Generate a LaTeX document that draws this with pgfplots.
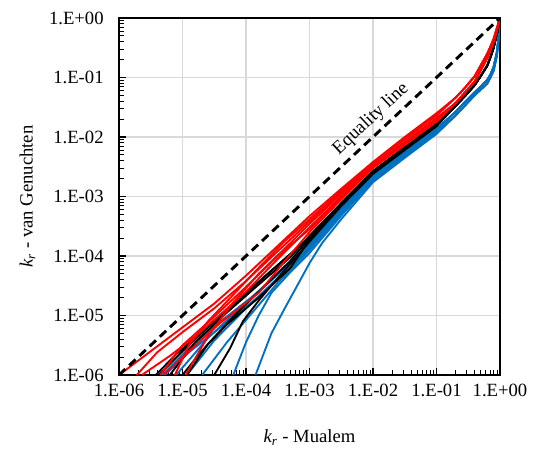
\documentclass[border=0pt]{standalone}
\usepackage{pgfplots}
\pgfplotsset{compat=1.18}
\usepackage{fontspec}
\setmainfont{Liberation Serif}
\definecolor{cblue}{HTML}{0070C0}
\definecolor{cred}{HTML}{FF0000}
\definecolor{cgrid}{HTML}{D9D9D9}
\begin{document}
\begin{tikzpicture}
\begin{axis}[
  scale only axis,
  width=285.75pt, height=267.75pt,
  xmode=log, ymode=log,
  xmin=1e-6, xmax=1, ymin=1e-6, ymax=1,
  enlargelimits=false,
  xtick={1e-6,1e-5,1e-4,1e-3,1e-2,1e-1,1},
  ytick={1e-6,1e-5,1e-4,1e-3,1e-2,1e-1,1},
  xticklabels={1.E-06,1.E-05,1.E-04,1.E-03,1.E-02,1.E-01,1.E+00},
  yticklabels={1.E-06,1.E-05,1.E-04,1.E-03,1.E-02,1.E-01,1.E+00},
  tick label style={font=\fontsize{14}{16}\selectfont},
  xticklabel style={yshift=-3pt},
  yticklabel style={xshift=-8pt},
  grid=major,
  major grid style={draw=cgrid, line width=0.9pt},
  axis line style={line width=1.1pt, black},
  tick style={black, line width=0.8pt},
  tick align=inside,
  tick pos=left,
  major tick length=5pt,
  minor tick length=3.5pt,
  xlabel={\textit{k\textsubscript{r}} - Mualem},
  ylabel={\textit{k\textsubscript{r}} - van Genuchten},
  label style={font=\fontsize{14}{16}\selectfont},
  xlabel style={at={(axis description cs:0.5,-0.176)}, anchor=center},
  ylabel style={at={(axis description cs:-0.24,0.5)}, anchor=center},
  every axis plot/.append style={line width=1.4pt, line join=round, no markers},
]
% ---------------- blue ----------------
\addplot[cblue] coordinates {(4.786e-6,1e-6) (1.259e-5,2.818e-6) (3.981e-5,7.943e-6) (1.585e-4,2.512e-5) (5.012e-4,7.586e-5) (1e-3,1.585e-4) (3.162e-3,6.310e-4) (1e-2,2.239e-3) (3.162e-2,5.623e-3) (0.1,1.380e-2)
 (0.1995,0.0263) (0.2818,0.0389) (0.3981,0.0562) (0.5012,0.0708) (0.631,0.0912) (0.7079,0.1122) (0.7943,0.1514) (0.8913,0.2630) (0.955,0.5012) (1,1)};
\addplot[cblue] coordinates {(5.248e-6,1e-6) (1.259e-5,2.399e-6) (3.981e-5,6.310e-6) (1.585e-4,2.089e-5) (5.012e-4,6.310e-5) (1e-3,1.380e-4) (3.162e-3,5.754e-4) (1e-2,2.089e-3) (3.162e-2,5.370e-3) (0.1,1.318e-2)
 (0.1995,0.0263) (0.2818,0.0389) (0.3981,0.0562) (0.5012,0.0708) (0.631,0.0912) (0.7079,0.1122) (0.7943,0.1514) (0.8913,0.2630) (0.955,0.5012) (1,1)};
\addplot[cblue] coordinates {(2.042e-5,1e-6) (5.012e-5,3.548e-6) (1.259e-4,1.122e-5) (3.162e-4,3.548e-5) (1e-3,1.259e-4) (3.162e-3,5.248e-4) (1e-2,1.995e-3) (3.162e-2,5.012e-3) (0.1,1.259e-2)
 (0.1995,0.0229) (0.2818,0.0339) (0.3981,0.0501) (0.5012,0.0631) (0.631,0.0794) (0.7079,0.1) (0.7943,0.1318) (0.8913,0.2291) (0.955,0.4571) (1,1)};
\addplot[cblue] coordinates {(6.310e-5,1e-6) (1e-4,3.548e-6) (1.585e-4,1e-5) (2.512e-4,2.399e-5) (5.012e-4,5.370e-5) (1e-3,1.122e-4) (3.162e-3,4.786e-4) (1e-2,1.862e-3) (3.162e-2,4.677e-3) (0.1,1.175e-2)
 (0.1995,0.0229) (0.2818,0.0339) (0.3981,0.0501) (0.5012,0.0631) (0.631,0.0794) (0.7079,0.1) (0.7943,0.1318) (0.8913,0.2291) (0.955,0.4571) (1,1)};
\addplot[cblue] coordinates {(1.413e-4,1e-6) (2.512e-4,5.012e-6) (3.981e-4,1.259e-5) (5.888e-4,2.692e-5) (1e-3,7.586e-5) (1.585e-3,1.660e-4) (3.162e-3,4.169e-4) (1e-2,1.738e-3) (3.162e-2,4.467e-3) (0.1,1.122e-2)
 (0.1995,0.0229) (0.2818,0.0339) (0.3981,0.0501) (0.5012,0.0631) (0.631,0.0794) (0.7079,0.1) (0.7943,0.1318) (0.8913,0.2291) (0.955,0.4571) (1,1)};
\addplot[cblue] coordinates {(1.175e-5,1e-6) (3.162e-5,3.802e-6) (1e-4,1.318e-5) (3.162e-4,4.266e-5) (1e-3,1.445e-4) (3.162e-3,6.026e-4) (1e-2,2.138e-3) (3.162e-2,5.495e-3) (0.1,1.349e-2)
 (0.1995,0.0263) (0.2818,0.0389) (0.3981,0.0562) (0.5012,0.0708) (0.631,0.0912) (0.7079,0.1122) (0.7943,0.1514) (0.8913,0.2630) (0.955,0.5012) (1,1)};
\addplot[cblue] coordinates {(7.943e-6,1e-6) (2.512e-5,4.169e-6) (1e-4,1.660e-5) (3.162e-4,5.012e-5) (1e-3,1.514e-4) (3.162e-3,6.166e-4) (1e-2,2.188e-3) (3.162e-2,5.495e-3) (0.1,1.380e-2)
 (0.1995,0.0263) (0.2818,0.0389) (0.3981,0.0562) (0.5012,0.0708) (0.631,0.0912) (0.7079,0.1122) (0.7943,0.1514) (0.8913,0.2630) (0.955,0.5012) (1,1)};
% ---------------- black ----------------
\addplot[black] coordinates {(4.266e-6,1e-6) (1e-5,2.512e-6) (3.162e-5,7.943e-6) (1e-4,2.399e-5) (3.162e-4,7.079e-5) (1e-3,2.089e-4) (3.162e-3,7.586e-4) (1e-2,2.630e-3) (3.162e-2,6.607e-3) (0.1,1.660e-2)
 (0.1995,0.0331) (0.2818,0.0490) (0.3981,0.0741) (0.5012,0.1072) (0.631,0.1585) (0.7079,0.2188) (0.7943,0.3162) (0.912,0.6026) (1,1)};
\addplot[black] coordinates {(1e-5,1e-6) (1.995e-5,2.512e-6) (5.012e-5,7.079e-6) (1.585e-4,1.995e-5) (5.012e-4,6.310e-5) (1e-3,1.905e-4) (3.162e-3,7.244e-4) (1e-2,2.512e-3) (3.162e-2,6.310e-3) (0.1,1.585e-2)
 (0.1995,0.0331) (0.2818,0.0490) (0.3981,0.0741) (0.5012,0.1072) (0.631,0.1585) (0.7079,0.2188) (0.7943,0.3162) (0.912,0.6026) (1,1)};
\addplot[black] coordinates {(3.162e-5,1e-6) (5.623e-5,2.818e-6) (8.913e-5,7.943e-6) (1.585e-4,1.778e-5) (3.162e-4,4.266e-5) (1e-3,1.738e-4) (3.162e-3,6.918e-4) (1e-2,2.399e-3) (3.162e-2,6.026e-3) (0.1,1.514e-2)
 (0.1995,0.0331) (0.2818,0.0490) (0.3981,0.0741) (0.5012,0.1072) (0.631,0.1585) (0.7079,0.2188) (0.7943,0.3162) (0.912,0.6026) (1,1)};
\addplot[black] coordinates {(1.175e-5,1e-6) (2.512e-5,3.311e-6) (6.310e-5,9.550e-6) (1.585e-4,2.512e-5) (5.012e-4,8.318e-5) (1e-3,1.995e-4) (3.162e-3,7.413e-4) (1e-2,2.570e-3) (3.162e-2,6.457e-3) (0.1,1.622e-2)
 (0.1995,0.0331) (0.2818,0.0490) (0.3981,0.0741) (0.5012,0.1072) (0.631,0.1585) (0.7079,0.2188) (0.7943,0.3162) (0.912,0.6026) (1,1)};
\addplot[black] coordinates {(6.310e-6,1e-6) (1.585e-5,3.548e-6) (5.012e-5,1.122e-5) (1.585e-4,3.311e-5) (5.012e-4,9.550e-5) (1e-3,2.188e-4) (3.162e-3,7.762e-4) (1e-2,2.692e-3) (3.162e-2,6.761e-3) (0.1,1.660e-2)
 (0.1995,0.0331) (0.2818,0.0490) (0.3981,0.0741) (0.5012,0.1072) (0.631,0.1585) (0.7079,0.2188) (0.7943,0.3162) (0.912,0.6026) (1,1)};
\addplot[black] coordinates {(3.802e-6,1e-6) (7.943e-6,2.239e-6) (2.512e-5,6.310e-6) (7.943e-5,1.905e-5) (2.512e-4,5.623e-5) (1e-3,1.995e-4) (3.162e-3,7.244e-4) (1e-2,2.512e-3) (3.162e-2,6.310e-3) (0.1,1.585e-2)
 (0.1995,0.0331) (0.2818,0.0490) (0.3981,0.0741) (0.5012,0.1072) (0.631,0.1585) (0.7079,0.2188) (0.7943,0.3162) (0.912,0.6026) (1,1)};
% ---------------- red ----------------
\addplot[cred] coordinates {(1e-6,1e-6) (3.162e-6,2.512e-6) (1e-5,6.310e-6) (3.162e-5,1.585e-5) (1e-4,4.677e-5) (3.162e-4,1.479e-4) (1e-3,4.677e-4) (3.162e-3,1.349e-3) (1e-2,3.802e-3) (3.162e-2,1e-2) (0.1,2.512e-2)
 (0.1995,0.0457) (0.2818,0.0676) (0.3981,0.1047) (0.5012,0.1622) (0.631,0.2512) (0.7079,0.3311) (0.7943,0.4467) (0.912,0.7244) (1,1)};
\addplot[cred] coordinates {(1.905e-6,1e-6) (3.981e-6,2.399e-6) (1e-5,5.248e-6) (3.162e-5,1.318e-5) (1e-4,3.802e-5) (3.162e-4,1.202e-4) (1e-3,3.802e-4) (3.162e-3,1.175e-3) (1e-2,3.548e-3) (3.162e-2,9.120e-3) (0.1,2.291e-2)
 (0.1995,0.0457) (0.2818,0.0676) (0.3981,0.1047) (0.5012,0.1622) (0.631,0.2512) (0.7079,0.3311) (0.7943,0.4467) (0.912,0.7244) (1,1)};
\addplot[cred] coordinates {(2.291e-6,1e-6) (6.310e-6,2.089e-6) (1.585e-5,4.467e-6) (3.981e-5,1.047e-5) (1e-4,2.512e-5) (3.162e-4,8.913e-5) (1e-3,3.020e-4) (3.162e-3,1e-3) (1e-2,3.162e-3) (3.162e-2,7.943e-3) (0.1,1.995e-2)
 (0.1995,0.0372) (0.2818,0.0562) (0.3981,0.0851) (0.5012,0.1349) (0.631,0.2138) (0.7079,0.2951) (0.7943,0.3981) (0.912,0.6761) (1,1)};
\addplot[cred] coordinates {(7.586e-6,1e-6) (1.259e-5,3.162e-6) (2.512e-5,7.943e-6) (6.310e-5,2.239e-5) (1.585e-4,6.310e-5) (3.981e-4,1.738e-4) (1e-3,4.169e-4) (3.162e-3,1.259e-3) (1e-2,3.631e-3) (3.162e-2,9.333e-3) (0.1,2.344e-2)
 (0.1995,0.0457) (0.2818,0.0676) (0.3981,0.1047) (0.5012,0.1622) (0.631,0.2512) (0.7079,0.3311) (0.7943,0.4467) (0.912,0.7244) (1,1)};
\addplot[cred] coordinates {(4.467e-6,1e-6) (1e-5,3.162e-6) (3.162e-5,9.550e-6) (1e-4,3.020e-5) (3.162e-4,1e-4) (1e-3,2.818e-4) (3.162e-3,9.550e-4) (1e-2,3.020e-3) (3.162e-2,7.586e-3) (0.1,1.905e-2)
 (0.1995,0.0372) (0.2818,0.0562) (0.3981,0.0851) (0.5012,0.1349) (0.631,0.2138) (0.7079,0.2951) (0.7943,0.3981) (0.912,0.6761) (1,1)};
\addplot[cred] coordinates {(1.122e-5,1e-6) (2.512e-5,4.467e-6) (6.310e-5,1.660e-5) (1.585e-4,5.012e-5) (5.012e-4,1.660e-4) (1e-3,3.467e-4) (3.162e-3,1.096e-3) (1e-2,3.311e-3) (3.162e-2,8.318e-3) (0.1,2.089e-2)
 (0.1995,0.0372) (0.2818,0.0562) (0.3981,0.0851) (0.5012,0.1349) (0.631,0.2138) (0.7079,0.2951) (0.7943,0.3981) (0.912,0.6761) (1,1)};
\addplot[cred] coordinates {(5.012e-6,1e-6) (1.259e-5,2.512e-6) (3.981e-5,7.586e-6) (1.585e-4,2.399e-5) (3.981e-4,7.943e-5) (1e-3,2.512e-4) (3.162e-3,8.913e-4) (1e-2,3.020e-3) (3.162e-2,7.413e-3) (0.1,1.820e-2)
 (0.1995,0.0372) (0.2818,0.0562) (0.3981,0.0851) (0.5012,0.1349) (0.631,0.2138) (0.7079,0.2951) (0.7943,0.3981) (0.912,0.6761) (1,1)};
% ---------------- equality line ----------------
\addplot[black, line width=2.2pt, dash pattern=on 6.5pt off 4pt] coordinates {(1e-6,1e-6) (1,1)};
\node[rotate=43, font=\fontsize{14}{16}\selectfont] at (axis cs:0.0093,0.02) {Equality line};
\end{axis}
\pgfresetboundingbox
\path (current axis.south west) ++(-89.25pt,-60pt) rectangle ([xshift=24.75pt,yshift=13.5pt]current axis.north east);
\end{tikzpicture}
\end{document}
